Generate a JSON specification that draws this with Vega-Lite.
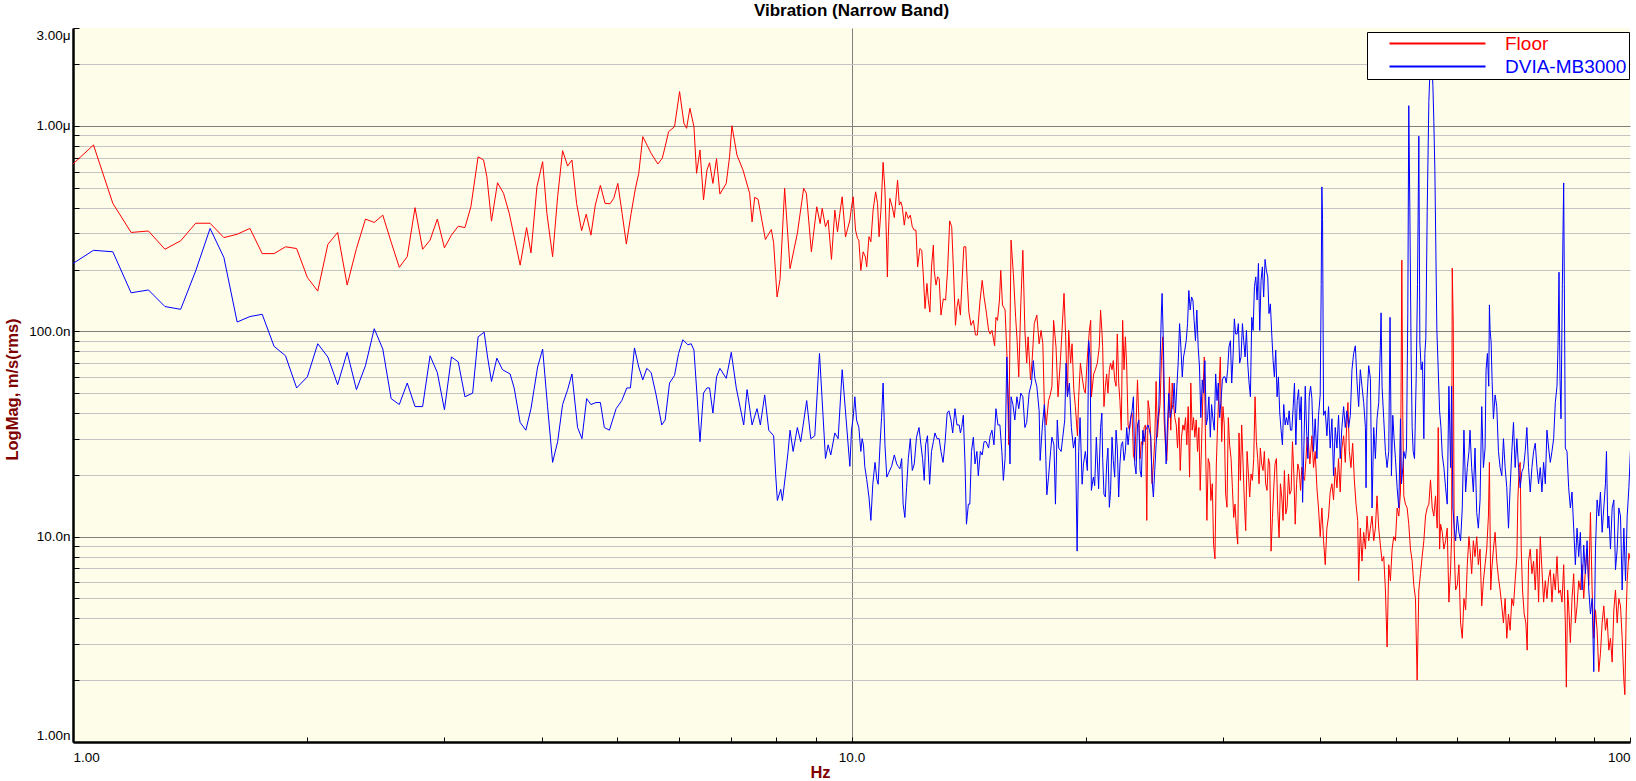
{
  "$schema": "https://vega.github.io/schema/vega-lite/v6.json",
  "autosize": {"type": "none"},
  "padding": {"left": 73, "top": 28, "right": 6, "bottom": 39},
  "width": 1557,
  "height": 714,
  "background": "white",
  "title": {
    "text": "Vibration (Narrow Band)",
    "font": "Liberation Sans",
    "fontSize": 17,
    "fontWeight": "bold",
    "color": "black",
    "anchor": "middle",
    "frame": "group",
    "baseline": "alphabetic",
    "offset": -5
  },
  "datasets": {
    "floor": [
      {"f":1,"v":653},{"f":1.0625,"v":808},{"f":1.125,"v":420},{"f":1.1875,"v":303},{"f":1.25,"v":308},{"f":1.3125,"v":251},{"f":1.375,"v":276},{"f":1.4375,"v":336},{"f":1.5,"v":336},{"f":1.5625,"v":286},{"f":1.625,"v":297},{"f":1.6875,"v":317},{"f":1.75,"v":239},{"f":1.8125,"v":239},{"f":1.875,"v":258},{"f":1.9375,"v":253},{"f":2,"v":183},{"f":2.0625,"v":157},{"f":2.125,"v":265},{"f":2.1875,"v":303},{"f":2.25,"v":168},{"f":2.3125,"v":253},{"f":2.375,"v":352},{"f":2.4375,"v":339},{"f":2.5,"v":368},{"f":2.5625,"v":272},{"f":2.625,"v":205},{"f":2.6875,"v":231},{"f":2.75,"v":400},{"f":2.8125,"v":251},{"f":2.875,"v":278},{"f":2.9375,"v":352},{"f":3,"v":255},{"f":3.0625,"v":294},{"f":3.125,"v":325},{"f":3.1875,"v":320},
      {"f":3.244,"v":404},{"f":3.314,"v":708},{"f":3.368,"v":683},{"f":3.401,"v":566},{"f":3.448,"v":344},{"f":3.51,"v":529},{"f":3.573,"v":470},{"f":3.634,"v":375},{"f":3.753,"v":210},{"f":3.825,"v":320},{"f":3.875,"v":241},{"f":3.944,"v":506},{"f":4.011,"v":670},{"f":4.062,"v":375},{"f":4.131,"v":231},{"f":4.193,"v":452},{"f":4.255,"v":758},{"f":4.319,"v":638},{"f":4.374,"v":683},{"f":4.435,"v":420},{"f":4.501,"v":309},{"f":4.563,"v":372},{"f":4.627,"v":294},{"f":4.687,"v":412},{"f":4.758,"v":514},{"f":4.824,"v":420},{"f":4.896,"v":418},{"f":4.95,"v":444},{"f":5.01,"v":525},{"f":5.074,"v":375},{"f":5.138,"v":266},{"f":5.211,"v":375},{"f":5.278,"v":497},{"f":5.33,"v":588},{"f":5.394,"v":887},{"f":5.529,"v":736},{"f":5.64,"v":653},{"f":5.713,"v":696},{"f":5.763,"v":793},{"f":5.821,"v":938},{"f":5.925,"v":992},{"f":6.014,"v":1470},{"f":6.092,"v":1031},{"f":6.14,"v":974},{"f":6.201,"v":1220},{"f":6.275,"v":992},{"f":6.324,"v":588},{"f":6.388,"v":764},{"f":6.455,"v":436},{"f":6.521,"v":610},{"f":6.572,"v":662},{"f":6.637,"v":525},{"f":6.709,"v":693},{"f":6.776,"v":466},{"f":6.904,"v":525},{"f":6.972,"v":708},{"f":7.021,"v":1003},{"f":7.126,"v":722},{"f":7.255,"v":610},{"f":7.399,"v":470},{"f":7.452,"v":341},{"f":7.51,"v":449},{"f":7.585,"v":440},{"f":7.751,"v":280},{"f":7.889,"v":313},{"f":7.943,"v":270},{"f":8.024,"v":147},{"f":8.095,"v":179},{"f":8.206,"v":497},{"f":8.338,"v":202},{"f":8.52,"v":300},{"f":8.681,"v":497},{"f":8.751,"v":470},{"f":8.881,"v":244},{"f":9.024,"v":404},{"f":9.114,"v":335},{"f":9.169,"v":397},{"f":9.259,"v":323},{"f":9.333,"v":348},{"f":9.425,"v":224},{"f":9.519,"v":389},{"f":9.594,"v":305},{"f":9.661,"v":375},{"f":9.728,"v":452},{"f":9.824,"v":288},{"f":9.952,"v":348},
      {"f":10,"v":404},{"f":10.05,"v":452},{"f":10.12,"v":311},{"f":10.18,"v":283},{"f":10.22,"v":278},{"f":10.28,"v":198},{"f":10.35,"v":244},{"f":10.42,"v":230},{"f":10.46,"v":206},{"f":10.53,"v":289},{"f":10.59,"v":273},{"f":10.66,"v":389},{"f":10.74,"v":478},{"f":10.8,"v":420},{"f":10.85,"v":289},{"f":10.91,"v":389},{"f":10.98,"v":665},{"f":11.04,"v":487},{"f":11.08,"v":311},{"f":11.12,"v":184},{"f":11.15,"v":289},{"f":11.2,"v":444},{"f":11.28,"v":404},{"f":11.35,"v":358},{"f":11.46,"v":545},{"f":11.52,"v":412},{"f":11.57,"v":427},{"f":11.62,"v":404},{"f":11.69,"v":329},{"f":11.75,"v":382},{"f":11.83,"v":354},{"f":11.9,"v":368},{"f":11.97,"v":323},{"f":12.04,"v":311},{"f":12.1,"v":311},{"f":12.16,"v":206},{"f":12.24,"v":253},{"f":12.31,"v":248},{"f":12.37,"v":184},{"f":12.43,"v":129},{"f":12.5,"v":171},{"f":12.55,"v":142},{"f":12.61,"v":124},{"f":12.67,"v":206},{"f":12.74,"v":263},{"f":12.77,"v":198},{"f":12.84,"v":168},{"f":12.9,"v":184},{"f":12.96,"v":181},{"f":13.03,"v":120},{"f":13.12,"v":144},{"f":13.21,"v":142},{"f":13.29,"v":202},{"f":13.37,"v":345},{"f":13.45,"v":323},{"f":13.52,"v":198},{"f":13.6,"v":107},{"f":13.66,"v":131},{"f":13.72,"v":144},{"f":13.8,"v":120},{"f":13.94,"v":258},{"f":14.02,"v":258},{"f":14.08,"v":177},{"f":14.15,"v":124},{"f":14.24,"v":107},{"f":14.34,"v":113},{"f":14.43,"v":96},{"f":14.51,"v":96},{"f":14.62,"v":139},{"f":14.72,"v":177},{"f":14.8,"v":147},{"f":14.9,"v":124},{"f":15,"v":101},{"f":15.07,"v":97},{"f":15.15,"v":101},{"f":15.27,"v":85},{"f":15.33,"v":117},{"f":15.4,"v":113},{"f":15.49,"v":142},{"f":15.55,"v":198},{"f":15.63,"v":134},{"f":15.72,"v":129},{"f":15.75,"v":127},{"f":15.84,"v":75},{"f":15.92,"v":28},{"f":16.03,"v":278},{"f":16.14,"v":191},{"f":16.25,"v":117},{"f":16.32,"v":90},{"f":16.4,"v":60},{"f":16.5,"v":136},{"f":16.6,"v":248},{"f":16.7,"v":101},{"f":16.79,"v":70},{"f":16.86,"v":94},{"f":16.98,"v":58},{"f":17.06,"v":72},{"f":17.17,"v":109},{"f":17.3,"v":120},{"f":17.42,"v":87},{"f":17.52,"v":101},{"f":17.61,"v":87},{"f":17.69,"v":44},{"f":17.79,"v":35},{"f":17.91,"v":46},{"f":18,"v":49},{"f":18.09,"v":54},{"f":18.18,"v":113},{"f":18.31,"v":84},{"f":18.42,"v":48},{"f":18.55,"v":72},{"f":18.64,"v":101},{"f":18.75,"v":153},{"f":18.84,"v":94},{"f":18.94,"v":48},{"f":19.01,"v":101},{"f":19.12,"v":70},{"f":19.2,"v":87},{"f":19.3,"v":52},{"f":19.39,"v":43},{"f":19.51,"v":31},{"f":19.58,"v":48},{"f":19.68,"v":70},{"f":19.78,"v":60},{"f":19.89,"v":52},{"f":19.97,"v":50},{"f":20.09,"v":75},{"f":20.21,"v":101},{"f":20.29,"v":113},{"f":20.33,"v":48},{"f":20.47,"v":62},{"f":20.57,"v":65},{"f":20.69,"v":70},{"f":20.81,"v":84},{"f":20.89,"v":127},{"f":20.97,"v":101},
      {"f":21.02,"v":84},{"f":21.1,"v":43},{"f":21.19,"v":54},{"f":21.27,"v":62},{"f":21.35,"v":50},{"f":21.44,"v":65},{"f":21.52,"v":70},{"f":21.61,"v":65},{"f":21.69,"v":72},{"f":21.78,"v":58},{"f":21.87,"v":54},{"f":21.95,"v":97},{"f":22.04,"v":56},{"f":22.12,"v":46},{"f":22.21,"v":33},{"f":22.3,"v":113},{"f":22.39,"v":65},{"f":22.48,"v":94},{"f":22.57,"v":67},{"f":22.66,"v":35},{"f":22.75,"v":33},{"f":22.84,"v":38},{"f":22.93,"v":40},{"f":23.02,"v":25},{"f":23.11,"v":23.5},{"f":23.2,"v":35},{"f":23.3,"v":58},{"f":23.39,"v":38},{"f":23.48,"v":24},{"f":23.57,"v":29},{"f":23.67,"v":28},{"f":23.76,"v":34},{"f":23.86,"v":35},{"f":23.95,"v":12},{"f":24.04,"v":46},{"f":24.14,"v":41},{"f":24.23,"v":30.5},{"f":24.33,"v":18.1},{"f":24.42,"v":22.6},{"f":24.52,"v":29},{"f":24.62,"v":57},{"f":24.71,"v":30.5},{"f":24.81,"v":38},{"f":24.91,"v":44},{"f":25.01,"v":72},{"f":25.11,"v":94},{"f":25.21,"v":37},{"f":25.31,"v":28},{"f":25.41,"v":23.5},{"f":25.51,"v":35},{"f":25.61,"v":60},{"f":25.71,"v":33},{"f":25.82,"v":56},{"f":25.92,"v":44},{"f":26.02,"v":38},{"f":26.13,"v":35},{"f":26.23,"v":27},{"f":26.34,"v":38},{"f":26.44,"v":21},{"f":26.54,"v":30.5},{"f":26.65,"v":35},{"f":26.75,"v":33},{"f":26.86,"v":38},{"f":26.96,"v":28},{"f":27.07,"v":43},{"f":27.18,"v":19.5},{"f":27.28,"v":56},{"f":27.39,"v":33},{"f":27.5,"v":38},{"f":27.61,"v":30.5},{"f":27.72,"v":37},{"f":27.83,"v":26},{"f":27.94,"v":34},{"f":28.05,"v":16.8},{"f":28.16,"v":28},{"f":28.27,"v":48},{"f":28.39,"v":75},{"f":28.5,"v":27},{"f":28.61,"v":12},{"f":28.72,"v":24},{"f":28.84,"v":22.6},{"f":28.95,"v":15},{"f":29.07,"v":18.1},{"f":29.18,"v":9.2},{"f":29.3,"v":7.8},{"f":29.42,"v":22.6},{"f":29.53,"v":35},{"f":29.65,"v":52},{"f":29.77,"v":75},{"f":29.89,"v":29},{"f":30,"v":43},{"f":30.12,"v":35},{"f":30.24,"v":16.1},{"f":30.36,"v":13.9},{"f":30.48,"v":38},{"f":30.6,"v":28},{"f":30.73,"v":24},{"f":30.85,"v":17.4},{"f":30.97,"v":12.4},{"f":31.09,"v":14.4},{"f":31.22,"v":10.7},{"f":31.34,"v":9.2},{"f":31.46,"v":32},{"f":31.59,"v":18.8},{"f":31.71,"v":35},{"f":31.84,"v":22.6},{"f":31.97,"v":14.4},{"f":32.09,"v":10.7},{"f":32.22,"v":26},{"f":32.35,"v":20.2},{"f":32.47,"v":15.6},{"f":32.6,"v":20.2},{"f":32.73,"v":18.8},{"f":32.86,"v":24},{"f":32.99,"v":48},{"f":33.12,"v":29},{"f":33.25,"v":24},{"f":33.38,"v":18.1},{"f":33.51,"v":27},{"f":33.64,"v":22.6},{"f":33.78,"v":21},{"f":33.91,"v":26},{"f":34.04,"v":18.1},{"f":34.18,"v":16.8},{"f":34.32,"v":24},{"f":34.45,"v":22.6},{"f":34.59,"v":8.5},{"f":34.73,"v":12.4},{"f":34.87,"v":17.4},{"f":35,"v":22.6},{"f":35.14,"v":24},{"f":35.28,"v":13.4},{"f":35.42,"v":9.9},{"f":35.56,"v":18.1},{"f":35.7,"v":15.6},{"f":35.84,"v":12},{"f":35.98,"v":21},{"f":36.13,"v":12.9},{"f":36.27,"v":13.9},{"f":36.42,"v":20.2},{"f":36.56,"v":16.1},{"f":36.71,"v":16.8},{"f":36.85,"v":29},{"f":37,"v":20.2},{"f":37.15,"v":11.5},{"f":37.3,"v":18.1},{"f":37.44,"v":22.6},{"f":37.59,"v":21},{"f":37.74,"v":16.8},{"f":37.89,"v":21.8},{"f":38.04,"v":19.5},{"f":38.19,"v":18.8},{"f":38.34,"v":23.5},{"f":38.49,"v":30.5},{"f":38.64,"v":28},{"f":38.8,"v":22.6},
      {"f":39.03,"v":31},{"f":39.22,"v":21.7},{"f":39.41,"v":26},{"f":39.61,"v":17.3},{"f":39.8,"v":13.8},{"f":40,"v":10},{"f":40.2,"v":13.8},{"f":40.4,"v":9.55},{"f":40.6,"v":7.3},{"f":40.8,"v":11},{"f":41,"v":12.6},{"f":41.2,"v":16.5},{"f":41.41,"v":18.1},{"f":41.61,"v":15.1},{"f":41.82,"v":21.7},{"f":42.03,"v":17.3},{"f":42.23,"v":24},{"f":42.44,"v":16.5},{"f":42.65,"v":27},{"f":42.87,"v":31},{"f":43.08,"v":23},{"f":43.29,"v":37.5},{"f":43.42,"v":45},{"f":43.6,"v":26},{"f":43.81,"v":21.7},{"f":44.03,"v":28.5},{"f":44.25,"v":18.9},{"f":44.47,"v":14.4},{"f":44.69,"v":12},{"f":44.82,"v":6.1},{"f":45.04,"v":11},{"f":45.26,"v":7.6},{"f":45.49,"v":10.5},{"f":45.72,"v":8.7},{"f":45.94,"v":12.6},{"f":46.17,"v":9.55},{"f":46.4,"v":11},{"f":46.63,"v":12.6},{"f":46.86,"v":9.55},{"f":47.09,"v":11},{"f":47.32,"v":15.8},{"f":47.56,"v":11},{"f":47.79,"v":9.1},{"f":48.03,"v":7.6},{"f":48.27,"v":8},{"f":48.51,"v":5.5},{"f":48.75,"v":2.9},{"f":48.99,"v":7.3},{"f":49.23,"v":6.1},{"f":49.48,"v":8.7},{"f":49.72,"v":10},{"f":49.97,"v":9.55},{"f":50.22,"v":13.8},{"f":50.47,"v":12.6},{"f":50.72,"v":16.5},{"f":50.92,"v":222},{"f":51.07,"v":37.5},{"f":51.22,"v":15.8},{"f":51.47,"v":14.4},{"f":51.73,"v":13.8},{"f":51.98,"v":11.5},{"f":52.24,"v":8.7},{"f":52.5,"v":7.6},{"f":52.76,"v":5.8},{"f":53.02,"v":5},{"f":53.28,"v":2},{"f":53.55,"v":5.5},{"f":53.81,"v":6.6},{"f":54.08,"v":8},{"f":54.35,"v":9.55},{"f":54.62,"v":12.6},{"f":54.89,"v":13.8},{"f":55.16,"v":14.4},{"f":55.43,"v":18.9},{"f":55.71,"v":13.8},{"f":55.98,"v":12.6},{"f":56.26,"v":15.8},{"f":56.54,"v":11},{"f":56.71,"v":34},{"f":56.94,"v":8.7},{"f":57.11,"v":11.5},{"f":57.39,"v":10.5},{"f":57.67,"v":8.7},{"f":57.96,"v":9.55},{"f":58.24,"v":11},{"f":58.53,"v":4.8},{"f":58.82,"v":6.9},{"f":59,"v":10},{"f":59.11,"v":203},{"f":59.29,"v":107},{"f":59.46,"v":8.7},{"f":59.7,"v":5.5},{"f":60,"v":5.8},{"f":60.29,"v":7.3},{"f":60.59,"v":3.8},{"f":60.89,"v":3.2},{"f":61.19,"v":5},{"f":61.5,"v":4.4},{"f":61.8,"v":7.3},{"f":62.11,"v":10},
      {"f":62.3,"v":8.7},{"f":62.61,"v":6.6},{"f":62.92,"v":9.55},{"f":63.23,"v":8},{"f":63.55,"v":10},{"f":63.86,"v":7.3},{"f":64.18,"v":8.7},{"f":64.5,"v":4.6},{"f":64.82,"v":6.1},{"f":65.14,"v":7.3},{"f":65.46,"v":8.7},{"f":65.79,"v":12.6},{"f":65.98,"v":23},{"f":66.24,"v":5.5},{"f":66.44,"v":6.9},{"f":66.77,"v":8.7},{"f":67.1,"v":10.5},{"f":67.43,"v":7.6},{"f":67.77,"v":6.3},{"f":68.1,"v":5.5},{"f":68.44,"v":4.6},{"f":68.78,"v":3.8},{"f":69.12,"v":5},{"f":69.46,"v":3.2},{"f":69.81,"v":4.2},{"f":70.15,"v":3.5},{"f":70.5,"v":5},{"f":70.85,"v":4.6},{"f":71.2,"v":6.1},{"f":71.56,"v":8},{"f":71.77,"v":15.1},{"f":72.06,"v":21.7},{"f":72.27,"v":23},{"f":72.49,"v":8.7},{"f":72.77,"v":5.5},{"f":73.13,"v":4.2},{"f":73.49,"v":3.8},{"f":73.78,"v":2.8},{"f":74.08,"v":7.6},{"f":74.45,"v":8.7},{"f":74.82,"v":6.6},{"f":75.19,"v":7.6},{"f":75.56,"v":5.5},{"f":75.94,"v":8.7},{"f":76.31,"v":4.8},{"f":76.69,"v":10},{"f":77.07,"v":6.9},{"f":77.45,"v":4.8},{"f":77.84,"v":6.1},{"f":78.22,"v":5},{"f":78.61,"v":6.3},{"f":79,"v":6.9},{"f":79.39,"v":4.8},{"f":79.78,"v":6.6},{"f":80.18,"v":5.5},{"f":80.58,"v":8},{"f":80.98,"v":5.3},{"f":81.38,"v":5.5},{"f":81.78,"v":4.8},{"f":82.19,"v":7.3},{"f":82.59,"v":3.8},{"f":82.84,"v":1.85},{"f":83.16,"v":5.5},{"f":83.41,"v":4.6},{"f":83.83,"v":3.05},{"f":84.24,"v":5},{"f":84.66,"v":6.6},{"f":85.08,"v":3.8},{"f":85.5,"v":4.6},{"f":85.92,"v":6.1},{"f":86.35,"v":5.5},{"f":86.78,"v":7.3},{"f":87.21,"v":5},{"f":87.64,"v":6.9},{"f":88.08,"v":8.7},{"f":88.52,"v":5.8},{"f":88.96,"v":13.1},{"f":89.4,"v":5.5},{"f":89.84,"v":3.2},{"f":90.29,"v":4.4},{"f":90.73,"v":3.5},{"f":91.18,"v":2.2},{"f":91.63,"v":2.7},{"f":92.09,"v":3.8},{"f":92.54,"v":4.6},{"f":93,"v":3.5},{"f":93.46,"v":4},{"f":93.93,"v":2.8},{"f":94.39,"v":3.2},{"f":94.86,"v":2.45},{"f":95.33,"v":4.4},{"f":95.8,"v":5.5},{"f":96.28,"v":3.8},{"f":96.75,"v":5},{"f":97.23,"v":4.6},{"f":97.71,"v":3.2},{"f":98.2,"v":2},{"f":98.49,"v":1.7},{"f":98.88,"v":4.2},{"f":99.17,"v":6.1},{"f":99.67,"v":8.3},{"f":100.16,"v":7.6},{"f":100.66,"v":10.5}
    ],
    "dvia": [
      {"f":1,"v":214},{"f":1.0625,"v":248},{"f":1.125,"v":244},{"f":1.1875,"v":154},{"f":1.25,"v":159},{"f":1.3125,"v":132},{"f":1.375,"v":128},{"f":1.4375,"v":197},{"f":1.5,"v":317},{"f":1.5625,"v":229},{"f":1.625,"v":111},{"f":1.6875,"v":118},{"f":1.75,"v":121},{"f":1.8125,"v":84.5},{"f":1.875,"v":76},{"f":1.9375,"v":53},{"f":2,"v":60},{"f":2.0625,"v":87},{"f":2.125,"v":75},{"f":2.1875,"v":55},{"f":2.25,"v":79},{"f":2.3125,"v":52},{"f":2.375,"v":68},{"f":2.4375,"v":103},{"f":2.5,"v":82},{"f":2.5625,"v":47},{"f":2.625,"v":44},{"f":2.6875,"v":56},{"f":2.75,"v":43},{"f":2.8125,"v":43},{"f":2.875,"v":76},{"f":2.9375,"v":63},{"f":3,"v":41.5},{"f":3.0625,"v":75},{"f":3.125,"v":71},{"f":3.1875,"v":48},
      {"f":3.261,"v":50},{"f":3.314,"v":94},{"f":3.374,"v":99},{"f":3.408,"v":75},{"f":3.448,"v":57},{"f":3.503,"v":74},{"f":3.562,"v":65},{"f":3.643,"v":62},{"f":3.687,"v":53},{"f":3.753,"v":36},{"f":3.817,"v":33},{"f":3.875,"v":42},{"f":3.952,"v":67},{"f":4.011,"v":82},{"f":4.07,"v":43},{"f":4.131,"v":23},{"f":4.193,"v":29},{"f":4.255,"v":44},{"f":4.319,"v":52},{"f":4.374,"v":62},{"f":4.448,"v":34},{"f":4.506,"v":30},{"f":4.569,"v":47},{"f":4.627,"v":44},{"f":4.697,"v":45},{"f":4.758,"v":45},{"f":4.814,"v":34},{"f":4.887,"v":33},{"f":4.985,"v":42},{"f":5.069,"v":46},{"f":5.145,"v":53},{"f":5.2,"v":53},{"f":5.263,"v":83},{"f":5.33,"v":67},{"f":5.394,"v":58},{"f":5.458,"v":66},{"f":5.529,"v":63},{"f":5.611,"v":49},{"f":5.705,"v":35},{"f":5.763,"v":37},{"f":5.838,"v":56},{"f":5.925,"v":61},{"f":5.996,"v":78},{"f":6.073,"v":91},{"f":6.163,"v":86},{"f":6.224,"v":87},{"f":6.275,"v":81},{"f":6.332,"v":49},{"f":6.388,"v":29},{"f":6.455,"v":50},{"f":6.521,"v":53},{"f":6.572,"v":53},{"f":6.637,"v":40},{"f":6.709,"v":60},{"f":6.776,"v":66},{"f":6.904,"v":59},{"f":7.008,"v":79},{"f":7.112,"v":53},{"f":7.27,"v":35},{"f":7.343,"v":52},{"f":7.452,"v":35},{"f":7.562,"v":42},{"f":7.637,"v":35},{"f":7.736,"v":49},{"f":7.829,"v":33},{"f":7.943,"v":31},{"f":7.991,"v":20},{"f":8.031,"v":15},{"f":8.111,"v":17},{"f":8.152,"v":15},{"f":8.226,"v":20},{"f":8.29,"v":26},{"f":8.338,"v":33},{"f":8.414,"v":26},{"f":8.52,"v":34},{"f":8.605,"v":29},{"f":8.759,"v":46},{"f":8.865,"v":30},{"f":8.971,"v":31},{"f":9.097,"v":78},{"f":9.259,"v":24},{"f":9.333,"v":28},{"f":9.406,"v":25},{"f":9.519,"v":32},{"f":9.613,"v":30},{"f":9.728,"v":65},{"f":9.952,"v":22},
      {"f":10,"v":33},{"f":10.05,"v":38},{"f":10.1,"v":48},{"f":10.15,"v":37},{"f":10.22,"v":34},{"f":10.28,"v":26},{"f":10.32,"v":30},{"f":10.36,"v":28},{"f":10.4,"v":22},{"f":10.46,"v":19},{"f":10.53,"v":15.6},{"f":10.59,"v":12},{"f":10.65,"v":18},{"f":10.72,"v":23},{"f":10.78,"v":19},{"f":10.82,"v":18},{"f":10.88,"v":28},{"f":10.93,"v":38},{"f":10.98,"v":56},{"f":11.04,"v":28},{"f":11.1,"v":19.5},{"f":11.17,"v":20.6},{"f":11.26,"v":22},{"f":11.35,"v":25},{"f":11.43,"v":22.6},{"f":11.48,"v":22},{"f":11.54,"v":21.4},{"f":11.6,"v":24},{"f":11.65,"v":14.4},{"f":11.71,"v":12.4},{"f":11.77,"v":17.4},{"f":11.83,"v":24},{"f":11.9,"v":30},{"f":11.97,"v":21},{"f":12.04,"v":22.6},{"f":12.12,"v":30.5},{"f":12.21,"v":34},{"f":12.28,"v":28},{"f":12.34,"v":24},{"f":12.4,"v":18.8},{"f":12.45,"v":28},{"f":12.52,"v":31},{"f":12.6,"v":18},{"f":12.67,"v":26},{"f":12.74,"v":29},{"f":12.8,"v":32},{"f":12.88,"v":30},{"f":12.96,"v":30},{"f":13.03,"v":26},{"f":13.11,"v":23},{"f":13.19,"v":29},{"f":13.27,"v":40},{"f":13.34,"v":41},{"f":13.42,"v":37},{"f":13.49,"v":32},{"f":13.58,"v":42},{"f":13.66,"v":35},{"f":13.75,"v":35},{"f":13.8,"v":32},{"f":13.85,"v":34},{"f":13.92,"v":39},{"f":13.99,"v":22.6},{"f":14.05,"v":11.5},{"f":14.13,"v":14.4},{"f":14.19,"v":14.4},{"f":14.26,"v":26},{"f":14.34,"v":30.5},{"f":14.41,"v":22.6},{"f":14.49,"v":26},{"f":14.55,"v":19.8},{"f":14.64,"v":26},{"f":14.72,"v":25},{"f":14.8,"v":29},{"f":14.89,"v":29},{"f":15,"v":27},{"f":15.07,"v":31},{"f":15.15,"v":33},{"f":15.24,"v":28},{"f":15.33,"v":42},{"f":15.42,"v":35},{"f":15.51,"v":35},{"f":15.6,"v":26},{"f":15.67,"v":18.8},{"f":15.75,"v":24},{"f":15.83,"v":75},{"f":15.9,"v":46},{"f":15.98,"v":22.6},{"f":16.03,"v":48},{"f":16.12,"v":44},{"f":16.21,"v":37},{"f":16.31,"v":48},{"f":16.4,"v":42},{"f":16.5,"v":50},{"f":16.6,"v":48},{"f":16.7,"v":34},{"f":16.79,"v":36},{"f":16.91,"v":50},{"f":17.03,"v":56},{"f":17.12,"v":72},{"f":17.2,"v":59},{"f":17.3,"v":54},{"f":17.42,"v":41},{"f":17.47,"v":23.5},{"f":17.59,"v":35},{"f":17.69,"v":44},{"f":17.77,"v":23.5},{"f":17.82,"v":16},{"f":17.91,"v":19.5},{"f":18.02,"v":26},{"f":18.09,"v":30.5},{"f":18.2,"v":28},{"f":18.28,"v":14.4},{"f":18.38,"v":37},{"f":18.46,"v":27},{"f":18.59,"v":26},{"f":18.68,"v":30.5},{"f":18.79,"v":37},{"f":18.86,"v":70},{"f":18.94,"v":48},{"f":19.05,"v":56},{"f":19.16,"v":34},{"f":19.28,"v":27},{"f":19.39,"v":30.5},{"f":19.49,"v":8.5},{"f":19.58,"v":26},{"f":19.66,"v":38},{"f":19.78,"v":18},{"f":19.86,"v":22.6},{"f":19.97,"v":26},{"f":20.09,"v":21},{"f":20.17,"v":90},{"f":20.25,"v":75},{"f":20.33,"v":16.8},{"f":20.45,"v":19.5},{"f":20.53,"v":17.7},{"f":20.63,"v":30.5},{"f":20.77,"v":17.1},{"f":20.89,"v":34},{"f":20.97,"v":40},
      {"f":21.02,"v":24},{"f":21.1,"v":16.1},{"f":21.19,"v":15.6},{"f":21.27,"v":22.6},{"f":21.35,"v":27},{"f":21.44,"v":13.9},{"f":21.52,"v":16.8},{"f":21.61,"v":30.5},{"f":21.69,"v":23.5},{"f":21.78,"v":19.5},{"f":21.87,"v":33},{"f":21.95,"v":27},{"f":22.04,"v":15.6},{"f":22.12,"v":22.6},{"f":22.21,"v":28},{"f":22.3,"v":29},{"f":22.39,"v":23.5},{"f":22.48,"v":26},{"f":22.57,"v":34},{"f":22.66,"v":28},{"f":22.75,"v":33},{"f":22.84,"v":38},{"f":22.93,"v":41},{"f":23.02,"v":48},{"f":23.11,"v":22.6},{"f":23.2,"v":20.2},{"f":23.3,"v":35},{"f":23.39,"v":37},{"f":23.48,"v":21},{"f":23.57,"v":19.5},{"f":23.67,"v":33},{"f":23.76,"v":29},{"f":23.86,"v":33},{"f":23.95,"v":34},{"f":24.04,"v":35},{"f":24.14,"v":33},{"f":24.23,"v":30.5},{"f":24.33,"v":18.8},{"f":24.42,"v":15.6},{"f":24.52,"v":21},{"f":24.62,"v":28},{"f":24.71,"v":35},{"f":24.81,"v":41},{"f":24.91,"v":70},{"f":25.01,"v":127},{"f":25.06,"v":153},{"f":25.16,"v":84},{"f":25.26,"v":38},{"f":25.36,"v":22.6},{"f":25.46,"v":35},{"f":25.56,"v":50},{"f":25.66,"v":38},{"f":25.77,"v":41},{"f":25.87,"v":44},{"f":25.97,"v":56},{"f":26.07,"v":40},{"f":26.18,"v":54},{"f":26.28,"v":70},{"f":26.39,"v":109},{"f":26.49,"v":84},{"f":26.6,"v":60},{"f":26.7,"v":75},{"f":26.8,"v":81},{"f":26.91,"v":90},{"f":27.02,"v":109},{"f":27.12,"v":158},{"f":27.23,"v":127},{"f":27.34,"v":147},{"f":27.45,"v":142},{"f":27.55,"v":113},{"f":27.66,"v":90},{"f":27.77,"v":127},{"f":27.88,"v":84},{"f":27.99,"v":67},{"f":28.1,"v":38},{"f":28.22,"v":58},{"f":28.33,"v":50},{"f":28.44,"v":72},{"f":28.56,"v":35},{"f":28.67,"v":38},{"f":28.78,"v":48},{"f":28.9,"v":30.5},{"f":29.01,"v":44},{"f":29.13,"v":37},{"f":29.24,"v":33},{"f":29.36,"v":62},{"f":29.48,"v":46},{"f":29.59,"v":56},{"f":29.71,"v":38},{"f":29.83,"v":46},{"f":29.95,"v":58},{"f":30.06,"v":60},{"f":30.18,"v":60},{"f":30.3,"v":56},{"f":30.42,"v":65},{"f":30.54,"v":84},{"f":30.67,"v":90},{"f":30.79,"v":56},{"f":30.91,"v":75},{"f":31.03,"v":115},{"f":31.15,"v":97},{"f":31.28,"v":97},{"f":31.4,"v":109},{"f":31.52,"v":70},{"f":31.65,"v":75},{"f":31.78,"v":109},{"f":31.9,"v":90},{"f":32.03,"v":75},{"f":32.16,"v":101},{"f":32.28,"v":70},{"f":32.41,"v":56},{"f":32.54,"v":48},{"f":32.67,"v":117},{"f":32.8,"v":101},{"f":32.93,"v":165},{"f":33.06,"v":184},{"f":33.19,"v":142},{"f":33.32,"v":214},{"f":33.45,"v":101},{"f":33.58,"v":177},{"f":33.71,"v":206},{"f":33.84,"v":147},{"f":33.98,"v":224},{"f":34.11,"v":198},{"f":34.25,"v":184},{"f":34.38,"v":122},{"f":34.52,"v":136},{"f":34.66,"v":97},{"f":34.8,"v":72},{"f":34.93,"v":60},{"f":35.07,"v":81},{"f":35.21,"v":48},{"f":35.35,"v":60},{"f":35.49,"v":40},{"f":35.63,"v":33},{"f":35.77,"v":28},{"f":35.91,"v":44},{"f":36.06,"v":35},{"f":36.2,"v":38},{"f":36.34,"v":35},{"f":36.49,"v":41},{"f":36.63,"v":33},{"f":36.78,"v":33},{"f":36.93,"v":43},{"f":37.07,"v":56},{"f":37.22,"v":28},{"f":37.37,"v":46},{"f":37.52,"v":52},{"f":37.67,"v":37},{"f":37.82,"v":48},{"f":37.97,"v":14.7},{"f":38.12,"v":28},{"f":38.27,"v":54},{"f":38.42,"v":33},{"f":38.57,"v":24},{"f":38.72,"v":48},{"f":38.88,"v":54},
      {"f":39.03,"v":47},{"f":39.22,"v":26},{"f":39.41,"v":37.5},{"f":39.61,"v":24},{"f":39.8,"v":39},{"f":40,"v":49},{"f":40.12,"v":169},{"f":40.2,"v":505},{"f":40.28,"v":350},{"f":40.4,"v":39},{"f":40.6,"v":41},{"f":40.8,"v":31},{"f":41,"v":43},{"f":41.2,"v":27},{"f":41.41,"v":37.5},{"f":41.61,"v":19.8},{"f":41.82,"v":34},{"f":42.03,"v":27},{"f":42.23,"v":39},{"f":42.44,"v":24},{"f":42.65,"v":34},{"f":42.87,"v":43},{"f":43.08,"v":34},{"f":43.29,"v":41},{"f":43.51,"v":34},{"f":43.73,"v":39},{"f":43.94,"v":65},{"f":44.16,"v":78},{"f":44.38,"v":85},{"f":44.6,"v":57},{"f":44.82,"v":43},{"f":45.04,"v":65},{"f":45.26,"v":54},{"f":45.49,"v":45},{"f":45.72,"v":34},{"f":45.81,"v":17.3},{"f":45.94,"v":47},{"f":46.17,"v":68},{"f":46.4,"v":59},{"f":46.63,"v":13.8},{"f":46.86,"v":34},{"f":47.09,"v":24},{"f":47.32,"v":37.5},{"f":47.56,"v":45},{"f":47.79,"v":85},{"f":47.89,"v":123},{"f":48.03,"v":54},{"f":48.27,"v":37.5},{"f":48.51,"v":26},{"f":48.75,"v":21.7},{"f":48.99,"v":26},{"f":49.18,"v":117},{"f":49.38,"v":19.8},{"f":49.58,"v":39},{"f":49.77,"v":30},{"f":49.97,"v":24},{"f":50.22,"v":17.3},{"f":50.47,"v":13.8},{"f":50.72,"v":37.5},{"f":50.87,"v":18.1},{"f":51.07,"v":21.7},{"f":51.22,"v":26},{"f":51.47,"v":24},{"f":51.63,"v":27},{"f":51.83,"v":123},{"f":51.98,"v":1256},{"f":52.14,"v":401},{"f":52.34,"v":78},{"f":52.5,"v":34},{"f":52.66,"v":26},{"f":52.87,"v":24},{"f":53.13,"v":59},{"f":53.34,"v":169},{"f":53.55,"v":892},{"f":53.71,"v":89},{"f":53.92,"v":65},{"f":54.13,"v":71},{"f":54.35,"v":30},{"f":54.51,"v":78},{"f":54.67,"v":93},{"f":54.89,"v":384},{"f":55.16,"v":1315},{"f":55.43,"v":2200},{"f":55.6,"v":2200},{"f":55.82,"v":1578},{"f":55.98,"v":1047},{"f":56.15,"v":606},{"f":56.32,"v":243},{"f":56.48,"v":102},{"f":56.71,"v":65},{"f":56.94,"v":41},{"f":57.17,"v":34},{"f":57.39,"v":25},{"f":57.67,"v":21.7},{"f":57.96,"v":17.3},{"f":58.24,"v":14.4},{"f":58.53,"v":54},{"f":58.82,"v":21.7},{"f":59,"v":54},{"f":59.23,"v":13.8},{"f":59.46,"v":11},{"f":59.7,"v":9.55},{"f":60,"v":12.6},{"f":60.29,"v":10.5},{"f":60.59,"v":9.55},{"f":60.89,"v":13.8},{"f":61.19,"v":33},{"f":61.5,"v":16.5},{"f":61.8,"v":21.7},{"f":62.11,"v":26},
      {"f":62.3,"v":33},{"f":62.61,"v":21.7},{"f":62.92,"v":16.5},{"f":63.23,"v":27},{"f":63.55,"v":13.1},{"f":63.86,"v":11},{"f":64.18,"v":15.1},{"f":64.5,"v":43},{"f":64.82,"v":21.7},{"f":65.14,"v":27},{"f":65.33,"v":65},{"f":65.59,"v":78},{"f":65.85,"v":54},{"f":65.98,"v":134.5},{"f":66.11,"v":102},{"f":66.31,"v":89},{"f":66.51,"v":57},{"f":66.77,"v":37.5},{"f":67.1,"v":49},{"f":67.43,"v":43},{"f":67.77,"v":26},{"f":68.1,"v":21.7},{"f":68.44,"v":19.8},{"f":68.78,"v":30},{"f":69.12,"v":21.7},{"f":69.46,"v":17.3},{"f":69.81,"v":11},{"f":70.15,"v":17.3},{"f":70.5,"v":26},{"f":70.85,"v":36},{"f":71.2,"v":21.7},{"f":71.56,"v":30},{"f":71.91,"v":21.7},{"f":72.27,"v":17.3},{"f":72.63,"v":20.7},{"f":72.99,"v":21.7},{"f":73.35,"v":26},{"f":73.71,"v":34},{"f":74.08,"v":21.7},{"f":74.45,"v":16.5},{"f":74.82,"v":21.7},{"f":75.19,"v":26},{"f":75.56,"v":28.5},{"f":75.94,"v":21.7},{"f":76.31,"v":18.1},{"f":76.69,"v":21.7},{"f":77.07,"v":16.5},{"f":77.45,"v":23},{"f":77.84,"v":18.1},{"f":78.22,"v":33},{"f":78.61,"v":27},{"f":79,"v":23},{"f":79.39,"v":26},{"f":79.78,"v":30},{"f":80.18,"v":45},{"f":80.58,"v":54},{"f":80.82,"v":85},{"f":81.06,"v":194},{"f":81.3,"v":59},{"f":81.54,"v":37.5},{"f":81.86,"v":161},{"f":82.03,"v":306},{"f":82.19,"v":528},{"f":82.35,"v":169},{"f":82.59,"v":27},{"f":83,"v":26},{"f":83.41,"v":17.3},{"f":83.83,"v":13.8},{"f":84.24,"v":16.5},{"f":84.66,"v":11},{"f":85.08,"v":7.3},{"f":85.5,"v":11},{"f":85.92,"v":8},{"f":86.35,"v":10.5},{"f":86.78,"v":5.5},{"f":87.21,"v":9.1},{"f":87.64,"v":6.6},{"f":88.08,"v":9.55},{"f":88.52,"v":5.5},{"f":88.96,"v":4.2},{"f":89.4,"v":5},{"f":89.84,"v":2.2},{"f":90.29,"v":8.7},{"f":90.73,"v":15.1},{"f":91.18,"v":12.6},{"f":91.63,"v":16.5},{"f":92.09,"v":10.5},{"f":92.54,"v":13.8},{"f":93,"v":18.1},{"f":93.28,"v":26},{"f":93.65,"v":11},{"f":93.93,"v":12.6},{"f":94.39,"v":8.7},{"f":94.86,"v":13.8},{"f":95.33,"v":15.1},{"f":95.8,"v":6.9},{"f":96.28,"v":8.7},{"f":96.75,"v":13.8},{"f":97.23,"v":12.6},{"f":97.71,"v":5.5},{"f":98.2,"v":11},{"f":98.69,"v":6.1},{"f":99.17,"v":12.6},{"f":99.67,"v":17.3},{"f":100.16,"v":27},{"f":100.66,"v":39}
    ]
  },
  "layer": [
    {
      "data": {"name": "floor"},
      "mark": {"type": "line", "strokeWidth": 1, "clip": true},
      "encoding": {
        "x": {
          "field": "f",
          "type": "quantitative",
          "scale": {"type": "log", "domain": [1, 100], "nice": false},
          "axis": {
            "title": "Hz",
            "titleFont": "Liberation Sans",
            "titleFontSize": 16.5,
            "titleFontWeight": "bold",
            "titleColor": "#800000",
            "titleX": 747,
            "titleY": 35,
            "titleAlign": "center",
            "titleBaseline": "alphabetic",
            "values": [1, 2, 3, 4, 5, 6, 7, 8, 9, 10, 20, 30, 40, 50, 60, 70, 80, 90, 100],
            "labelExpr": "datum.value == 1 ? '1.00' : datum.value == 10 ? '10.0' : datum.value == 100 ? '100' : ''",
            "labelFlush": true,
            "labelOverlap": false,
            "labelFont": "Liberation Sans",
            "labelFontSize": 13.5,
            "labelColor": "black",
            "labelPadding": 13,
            "tickSize": -5,
            "tickColor": "black",
            "domainColor": "black",
            "domainWidth": 2.5,
            "grid": true,
            "gridColor": "#808080",
            "gridOpacity": {"condition": {"test": "datum.value == 10", "value": 1}, "value": 0}
          }
        },
        "y": {
          "field": "v",
          "type": "quantitative",
          "scale": {"type": "log", "domain": [1, 3000], "nice": false},
          "axis": {
            "title": "LogMag, m/s(rms)",
            "titleFont": "Liberation Sans",
            "titleFontSize": 16.5,
            "titleFontWeight": "bold",
            "titleColor": "#800000",
            "titleAngle": -90,
            "titleX": -60.5,
            "titleY": 361,
            "titleAlign": "center",
            "titleBaseline": "middle",
            "values": [1, 2, 3, 4, 5, 6, 7, 8, 9, 10, 20, 30, 40, 50, 60, 70, 80, 90, 100, 200, 300, 400, 500, 600, 700, 800, 900, 1000, 2000, 3000],
            "labelExpr": "datum.value == 1 ? '1.00n' : datum.value == 10 ? '10.0n' : datum.value == 100 ? '100.0n' : datum.value == 1000 ? '1.00μ' : datum.value == 3000 ? '3.00μ' : ''",
            "labelFlush": true,
            "labelOverlap": false,
            "labelFont": "Liberation Sans",
            "labelFontSize": 13.5,
            "labelColor": "black",
            "labelPadding": 9,
            "tickSize": -6,
            "tickColor": "black",
            "domainColor": "black",
            "domainWidth": 2.5,
            "grid": true,
            "gridColor": {"condition": {"test": "datum.value == 1 || datum.value == 10 || datum.value == 100 || datum.value == 1000", "value": "#808080"}, "value": "#c4c4c4"},
            "gridOpacity": {"condition": {"test": "datum.value == 3000", "value": 0}, "value": 1}
          }
        },
        "color": {
          "datum": "Floor",
          "type": "nominal",
          "scale": {"domain": ["Floor", "DVIA-MB3000"], "range": ["#ff0000", "#0000ff"]},
          "legend": {
            "title": null,
            "orient": "none",
            "legendX": 1294,
            "legendY": 4,
            "zindex": 1,
            "symbolType": "M-8,0L8,0",
            "symbolSize": 144,
            "symbolStrokeWidth": 2,
            "symbolOffset": 59,
            "labelOffset": 58,
            "labelFont": "Liberation Sans",
            "labelFontSize": 19,
            "labelLimit": 300,
            "padding": 2,
            "rowPadding": 3,
            "strokeColor": "black",
            "fillColor": "white",
            "cornerRadius": 0,
            "encode": {
              "labels": {"update": {"fill": {"signal": "datum.label == 'Floor' ? '#ff0000' : '#0000ff'"}}}
            }
          }
        }
      }
    },
    {
      "data": {"name": "dvia"},
      "mark": {"type": "line", "strokeWidth": 1, "clip": true},
      "encoding": {
        "x": {"field": "f", "type": "quantitative"},
        "y": {"field": "v", "type": "quantitative"},
        "color": {"datum": "DVIA-MB3000", "type": "nominal"}
      }
    }
  ],
  "config": {
    "view": {"fill": "#fdfde9", "stroke": null}
  }
}
